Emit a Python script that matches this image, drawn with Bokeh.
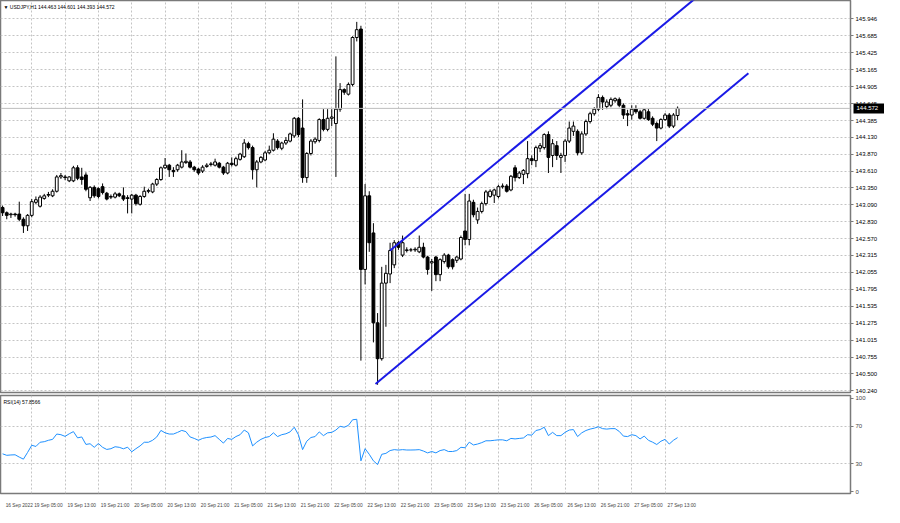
from bokeh.plotting import figure
from bokeh.layouts import column
from bokeh.models import FixedTicker, Label, Span, ColumnDataSource, Range1d, LinearAxis
from bokeh.embed import file_html
from bokeh.resources import INLINE

# ---------------- data (USDJPY H1) ----------------
opens = [143.05, 142.97, 142.94, 142.95, 142.95, 142.87, 142.77, 142.93, 143.13, 143.07,
         143.19, 143.24, 143.23, 143.30, 143.52, 143.52, 143.46, 143.46, 143.66, 143.52,
         143.55, 143.20, 143.36, 143.34, 143.37, 143.27, 143.21, 143.21, 143.26, 143.23,
         143.20, 143.18, 143.24, 143.10, 143.22, 143.30, 143.29, 143.41, 143.48, 143.66,
         143.70, 143.62, 143.63, 143.67, 143.74, 143.75, 143.67, 143.64, 143.61, 143.68,
         143.71, 143.70, 143.73, 143.67, 143.58, 143.73, 143.70, 143.79, 143.83, 144.03,
         143.97, 143.63, 143.75, 143.78, 143.89, 143.93, 144.07, 143.96, 144.04, 144.07,
         144.15, 144.42, 144.27, 143.51, 143.88, 144.06, 144.08, 144.40, 144.25, 144.42,
         144.34, 144.56, 144.86, 144.79, 144.94, 145.66, 145.79, 142.10, 143.23, 142.66,
         141.28, 140.73, 141.89, 142.03, 142.17, 142.51, 142.32, 142.39, 142.40, 142.40,
         142.37, 142.44, 142.29, 142.20, 142.29, 142.02, 142.22, 142.32, 142.25, 142.24,
         142.26, 142.69, 142.56, 143.13, 142.86, 142.99, 143.11, 143.22, 143.24, 143.22,
         143.37, 143.38, 143.32, 143.66, 143.51, 143.56, 143.57, 143.80, 143.77, 143.96,
         143.97, 144.17, 143.85, 144.00, 143.82, 143.85, 144.07, 144.22, 144.22, 143.89,
         144.18, 144.37, 144.49, 144.56, 144.74, 144.60, 144.62, 144.69, 144.71, 144.62,
         144.49, 144.47, 144.56, 144.52, 144.42, 144.52, 144.42, 144.34, 144.27, 144.40,
         144.47, 144.30, 144.463]
highs = [143.08, 142.99, 142.97, 142.97, 143.14, 142.90, 142.95, 143.18, 143.22, 143.24,
         143.26, 143.29, 143.33, 143.55, 143.58, 143.55, 143.53, 143.69, 143.70, 143.66,
         143.59, 143.38, 143.39, 143.36, 143.42, 143.29, 143.25, 143.29, 143.28, 143.36,
         143.24, 143.26, 143.26, 143.24, 143.37, 143.34, 143.43, 143.50, 143.68, 143.81,
         143.72, 143.67, 143.72, 143.93, 143.88, 143.78, 143.69, 143.66, 143.70, 143.73,
         143.75, 143.80, 143.75, 143.69, 143.75, 143.82, 143.83, 143.89, 144.10, 144.06,
         144.00, 143.78, 143.84, 143.92, 144.00, 144.19, 144.10, 144.06, 144.13, 144.20,
         144.44, 144.44, 144.71, 143.90, 144.10, 144.13, 144.42, 144.56, 144.56, 144.56,
         145.37, 144.96, 144.88, 144.97, 145.68, 145.90, 145.84, 143.41, 143.30, 142.81,
         141.43, 142.14, 142.17, 142.51, 142.55, 142.54, 142.62, 142.44, 142.43, 142.44,
         142.62, 142.51, 142.31, 142.26, 142.31, 142.27, 142.35, 142.34, 142.27, 142.31,
         142.62, 143.26, 143.26, 143.17, 143.05, 143.14, 143.32, 143.33, 143.34, 143.40,
         143.42, 143.41, 143.55, 143.70, 143.61, 143.64, 144.07, 143.85, 144.00, 144.04,
         144.19, 144.22, 144.10, 144.07, 143.89, 144.10, 144.37, 144.37, 144.25, 144.22,
         144.40, 144.52, 144.59, 144.79, 144.77, 144.71, 144.74, 144.74, 144.74, 144.65,
         144.55, 144.62, 144.62, 144.55, 144.56, 144.56, 144.45, 144.37, 144.42, 144.50,
         144.50, 144.50, 144.601]
lows = [142.92, 142.87, 142.89, 142.91, 142.84, 142.66, 142.69, 142.90, 143.10, 143.05,
        143.17, 143.21, 143.21, 143.28, 143.49, 143.47, 143.44, 143.44, 143.47, 143.40,
        143.30, 143.15, 143.20, 143.19, 143.25, 143.16, 143.18, 143.19, 143.21, 143.15,
        142.96, 142.96, 143.08, 143.08, 143.20, 143.27, 143.27, 143.38, 143.46, 143.64,
        143.52, 143.52, 143.60, 143.65, 143.72, 143.65, 143.60, 143.55, 143.58, 143.66,
        143.68, 143.68, 143.65, 143.55, 143.56, 143.68, 143.68, 143.77, 143.81, 143.94,
        143.48, 143.36, 143.73, 143.76, 143.87, 143.91, 143.94, 143.93, 144.01, 144.05,
        144.12, 144.13, 143.43, 143.43, 143.85, 144.03, 144.05, 144.22, 144.22, 144.30,
        143.52, 144.52, 144.78, 144.77, 144.91, 145.60, 140.70, 141.87, 142.37, 140.98,
        140.33, 140.70, 141.22, 141.89, 142.12, 142.40, 142.29, 142.36, 142.37, 142.37,
        142.35, 142.27, 142.02, 141.77, 141.92, 141.92, 142.19, 142.11, 142.10, 142.20,
        142.24, 142.47, 142.47, 142.90, 142.80, 142.96, 143.08, 143.20, 143.12, 143.19,
        143.34, 143.28, 143.30, 143.45, 143.49, 143.41, 143.50, 143.70, 143.67, 143.90,
        143.94, 143.58, 143.67, 143.78, 143.58, 143.75, 144.04, 144.15, 143.85, 143.86,
        144.15, 144.34, 144.46, 144.53, 144.55, 144.56, 144.59, 144.66, 144.59, 144.41,
        144.30, 144.40, 144.49, 144.40, 144.40, 144.38, 144.30, 144.07, 144.25, 144.38,
        144.27, 144.27, 144.393]
closes = [142.97, 142.93, 142.95, 142.94, 142.87, 142.77, 142.93, 143.14, 143.17, 143.21,
          143.23, 143.25, 143.30, 143.52, 143.54, 143.51, 143.52, 143.66, 143.50, 143.48,
          143.33, 143.36, 143.23, 143.22, 143.28, 143.18, 143.22, 143.26, 143.23, 143.18,
          143.19, 143.24, 143.11, 143.22, 143.30, 143.31, 143.41, 143.48, 143.66, 143.70,
          143.63, 143.60, 143.70, 143.75, 143.76, 143.67, 143.63, 143.58, 143.67, 143.70,
          143.72, 143.75, 143.67, 143.58, 143.73, 143.71, 143.80, 143.87, 144.04, 143.97,
          143.63, 143.75, 143.82, 143.89, 143.93, 144.10, 143.97, 144.04, 144.08, 144.18,
          144.42, 144.17, 143.51, 143.88, 144.07, 144.10, 144.40, 144.25, 144.42, 144.44,
          144.56, 144.86, 144.82, 144.94, 145.66, 145.78, 142.10, 143.23, 142.51, 141.28,
          140.73, 141.89, 142.04, 142.39, 142.51, 142.44, 142.51, 142.40, 142.40, 142.41,
          142.44, 142.29, 142.10, 142.22, 142.02, 142.25, 142.32, 142.14, 142.14, 142.29,
          142.59, 142.56, 143.15, 142.94, 142.99, 143.11, 143.29, 143.30, 143.32, 143.37,
          143.38, 143.30, 143.53, 143.51, 143.58, 143.62, 143.80, 143.77, 143.97, 144.00,
          144.17, 143.82, 144.03, 143.85, 143.85, 144.07, 144.27, 144.30, 143.89, 144.18,
          144.37, 144.49, 144.56, 144.74, 144.67, 144.67, 144.71, 144.72, 144.62, 144.47,
          144.47, 144.56, 144.52, 144.42, 144.55, 144.40, 144.33, 144.27, 144.40, 144.47,
          144.30, 144.47, 144.572]
rsi14 = [40.5, 38.9, 39.3, 39.5, 37.0, 34.8, 42.0, 49.7, 48.4, 52.9,
         53.5, 55.0, 56.0, 61.7, 61.0, 59.2, 62.0, 64.3, 57.6, 58.6,
         50.6, 51.3, 47.5, 51.6, 47.5, 45.2, 46.0, 48.1, 47.5, 45.9,
         47.6, 42.7, 46.0, 49.0, 52.9, 52.9, 55.0, 58.6, 65.6, 63.0,
         61.7, 61.7, 63.5, 65.6, 64.3, 58.6, 57.0, 55.0, 57.0, 58.0,
         58.5, 60.0, 56.0, 52.0, 57.0, 56.0, 59.0, 61.0, 66.0, 63.0,
         49.0, 53.0, 56.0, 58.0, 59.0, 63.0, 59.0, 61.0, 62.0, 64.0,
         69.0, 61.0, 45.0, 54.0, 58.0, 59.0, 64.0, 60.0, 63.0, 63.5,
         66.0, 70.0, 69.0, 71.0, 77.0, 77.5, 33.0, 46.0, 40.0, 33.0,
         29.0, 40.0, 41.0, 44.0, 45.0, 44.5, 45.0, 44.6, 44.6, 44.7,
         45.0, 43.5, 41.5, 43.0, 41.5, 44.0, 45.0, 43.0, 43.0, 44.0,
         47.5, 47.0, 53.0, 50.0, 51.0, 52.5, 54.5, 54.5, 55.0, 55.5,
         55.5, 54.5, 57.0, 56.5, 57.0, 57.5, 61.0, 60.5, 65.5, 66.5,
         69.0, 60.0, 63.5, 60.0, 60.0, 63.5, 66.0, 66.5, 59.0, 63.0,
         65.5, 67.0, 68.0, 69.5, 67.5, 67.0, 67.5, 67.5, 64.5, 59.5,
         59.0, 61.0, 60.0, 56.5, 59.5, 55.0, 53.0, 50.5, 54.0, 56.0,
         51.0, 55.0, 57.8566]

price_ticks = [145.946, 145.685, 145.425, 145.165, 144.905, 144.645, 144.385, 144.130,
               143.870, 143.610, 143.350, 143.090, 142.830, 142.570, 142.315, 142.055,
               141.795, 141.535, 141.275, 141.015, 140.755, 140.500, 140.240]
time_tick_bars = [0, 7, 15, 23, 31, 39, 47, 55, 63, 71, 79, 87, 95, 103, 111, 119,
                  127, 135, 143, 151, 159]
time_tick_labels = ["16 Sep 2022", "19 Sep 05:00", "19 Sep 13:00", "19 Sep 21:00",
                    "20 Sep 05:00", "20 Sep 13:00", "20 Sep 21:00", "21 Sep 05:00",
                    "21 Sep 13:00", "21 Sep 21:00", "22 Sep 05:00", "22 Sep 13:00",
                    "22 Sep 21:00", "23 Sep 05:00", "23 Sep 13:00", "23 Sep 21:00",
                    "26 Sep 05:00", "26 Sep 13:00", "26 Sep 21:00", "27 Sep 05:00",
                    "27 Sep 13:00"]
rsi_ticks = [0, 30, 70, 100]
rsi_levels = [30, 70]

# channel drawn on the chart (bar index, price)
upper_chan_bars = [93, 167]
upper_chan_prices = [142.39, 146.30]
lower_chan_bars = [89.5, 179]
lower_chan_prices = [140.34, 145.11]

last_price = 144.572
title_text = "\u25BC USDJPY,H1  144.463 144.601 144.393 144.572"
rsi_text = "RSI(14) 57.8566"

# ---------------- styling ----------------
FONT = "Liberation Sans"
FS_AX = "6px"
FS_SMALL = "5px"
FS_DATE = "4.8px"
GRID = "#c4c4c4"
FRAME = "#7a7a7a"
FRAME_W = 850

n = len(closes)
bars = list(range(n))
bull = [c >= o for o, c in zip(opens, closes)]
src = ColumnDataSource(dict(
    x=bars, h=highs, l=lows,
    top=[max(o, c) for o, c in zip(opens, closes)],
    bot=[min(o, c) for o, c in zip(opens, closes)],
    fill=["white" if b else "black" for b in bull],
))

xr = Range1d(-0.5, 203.5)

p = figure(frame_width=FRAME_W, frame_height=392, x_range=xr,
           y_range=Range1d(140.211, 146.228), output_backend="svg",
           toolbar_location=None, x_axis_location=None, y_axis_location="right",
           min_border_left=0, min_border_right=34, min_border_top=0,
           min_border_bottom=2)
p.outline_line_color = FRAME
p.outline_line_width = 1.5
p.background_fill_color = "white"

ax = p.yaxis[0]
ax.ticker = FixedTicker(ticks=price_ticks)
ax.major_label_overrides = {t: f"{t:.3f}" for t in price_ticks}
ax.major_label_text_font = FONT
ax.major_label_text_font_size = FS_AX
ax.major_label_text_color = "black"
ax.axis_line_color = None
ax.major_tick_out = 3
ax.major_tick_in = 0
ax.major_tick_line_color = FRAME
ax.minor_tick_line_color = None
ax.major_label_standoff = 2

# current-price marker on the price scale (black box with white text)
box_ax = LinearAxis(ticker=FixedTicker(ticks=[last_price]),
                    major_label_overrides={last_price: "144.572"})
box_ax.axis_line_color = None
box_ax.minor_tick_line_color = None
box_ax.major_tick_line_color = "black"
box_ax.major_tick_line_width = 10
box_ax.major_tick_line_cap = "butt"
box_ax.major_tick_in = 27
box_ax.major_tick_out = 5
box_ax.major_label_standoff = -29
box_ax.major_label_text_color = "white"
box_ax.major_label_text_font = FONT
box_ax.major_label_text_font_size = FS_AX
p.add_layout(box_ax, "right")

p.ygrid.ticker = FixedTicker(ticks=price_ticks)
p.ygrid.grid_line_color = GRID
p.ygrid.grid_line_dash = "2 2"
p.xgrid.ticker = FixedTicker(ticks=time_tick_bars[1:])
p.xgrid.grid_line_color = GRID
p.xgrid.grid_line_dash = "2 2"

p.add_layout(Span(location=last_price, dimension="width", line_color="#bdbdbd",
                  line_width=1))

p.segment(x0="x", y0="h", x1="x", y1="l", source=src, color="black", line_width=1)
p.vbar(x="x", width=0.68, top="top", bottom="bot", source=src, fill_color="fill",
       line_color="black", line_width=1)

p.line(upper_chan_bars, upper_chan_prices, color="#1a1ae6", line_width=2)
p.line(lower_chan_bars, lower_chan_prices, color="#1a1ae6", line_width=2)

p.add_layout(Label(x=-0.5, y=146.228, x_offset=3, y_offset=-3, text=title_text,
                   text_font=FONT, text_font_size=FS_SMALL, text_baseline="top",
                   text_color="black"))

r = figure(frame_width=FRAME_W, frame_height=98, x_range=xr, y_range=Range1d(-2, 103),
           output_backend="svg", toolbar_location=None, y_axis_location="right",
           min_border_left=0, min_border_right=34, min_border_top=1,
           min_border_bottom=0)
r.outline_line_color = FRAME
r.outline_line_width = 1.5
ry = r.yaxis[0]
ry.ticker = FixedTicker(ticks=rsi_ticks)
ry.major_label_text_font = FONT
ry.major_label_text_font_size = FS_AX
ry.axis_line_color = None
ry.major_tick_out = 3
ry.major_tick_in = 0
ry.major_tick_line_color = FRAME
ry.minor_tick_line_color = None
ry.major_label_standoff = 2

rx = r.xaxis[0]
label_pos = [b + 4 for b in time_tick_bars]
rx.ticker = FixedTicker(ticks=label_pos)
rx.major_label_overrides = {pos: lab for pos, lab in zip(label_pos, time_tick_labels)}
rx.major_label_text_font = FONT
rx.major_label_text_font_size = FS_DATE
rx.axis_line_color = None
rx.major_tick_line_color = None
rx.minor_tick_line_color = None
rx.major_label_standoff = 3

r.ygrid.ticker = FixedTicker(ticks=rsi_levels)
r.ygrid.grid_line_color = GRID
r.ygrid.grid_line_dash = "2 2"
r.xgrid.ticker = FixedTicker(ticks=time_tick_bars[1:])
r.xgrid.grid_line_color = GRID
r.xgrid.grid_line_dash = "2 2"

r.line(bars, rsi14, color="#1e90ff", line_width=1)
r.add_layout(Label(x=-0.5, y=103, x_offset=3, y_offset=-3, text=rsi_text,
                   text_font=FONT, text_font_size=FS_SMALL, text_baseline="top",
                   text_color="black"))

layout = column(p, r, spacing=0)
open("out.html", "w").write(file_html(layout, INLINE))
